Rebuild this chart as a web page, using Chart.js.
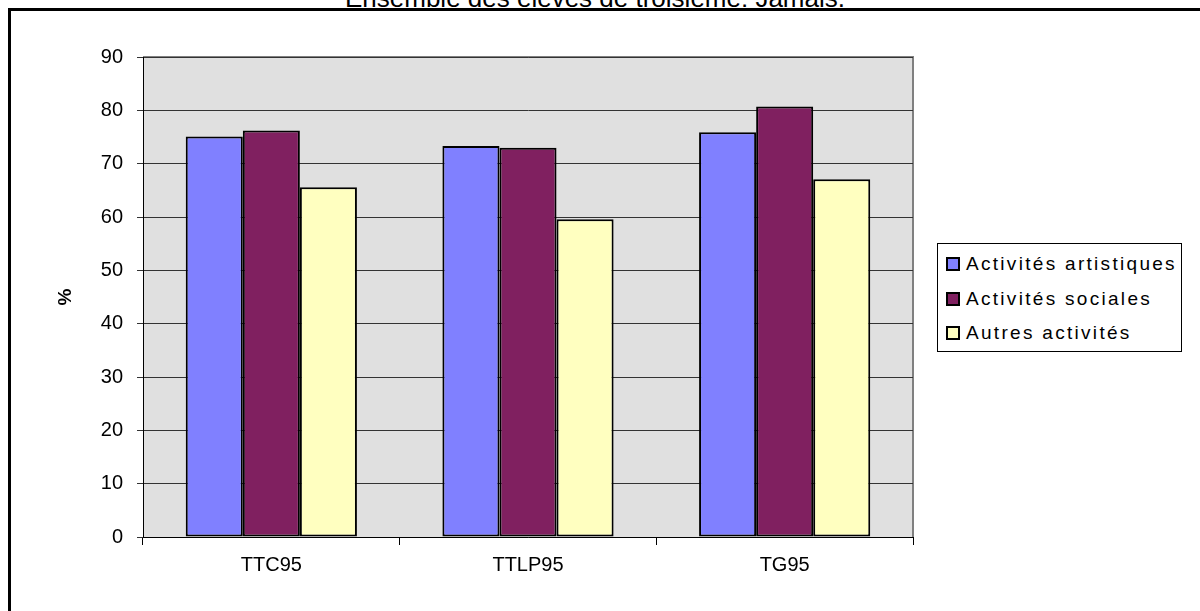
<!DOCTYPE html>
<html>
<head>
<meta charset="utf-8">
<script src="https://cdn.jsdelivr.net/npm/chart.js@4/dist/chart.umd.min.js"></script>
<style>
  html, body { margin: 0; padding: 0; background: #fff; overflow: hidden; }
  body { width: 1200px; height: 611px; position: relative; font-family: "Liberation Sans", Arial, sans-serif; }
  #frame { position: absolute; left: 8px; top: 8px; width: 1300px; height: 700px; border-left: 3px solid #000; border-top: 3px solid #000; }
  #title { position: absolute; left: 0; width: 1190px; top: -15px; text-align: center; font-size: 26px; line-height: 26px; color: #000; }
  #wrap { position: absolute; left: 0; top: 0; width: 1200px; height: 611px; }
  #legend { position: absolute; left: 937px; top: 243px; width: 245px; height: 109px; border: 1px solid #000; background: #fff; box-sizing: border-box; }
  .item { position: absolute; left: 8px; height: 22px; display: flex; align-items: center; font-size: 19px; letter-spacing: 2.3px; color: #000; white-space: nowrap; }
  .sw { width: 10px; height: 10px; border: 2px solid #000; margin-right: 6px; }
</style>
</head>
<body>
<div id="frame"></div>
<div id="title">Ensemble des élèves de troisième: Jamais.</div>
<div id="wrap"><canvas id="chart" width="1200" height="611"></canvas></div>
<div id="legend"></div>
<script>
// ===== DATA =====
const CATEGORIES = ['TTC95', 'TTLP95', 'TG95'];
const SERIES_NAMES = ['Activités artistiques', 'Activités sociales', 'Autres activités'];
const ARTISTIQUES = [75.1, 73.3, 75.9];
const SOCIALES = [76.2, 73.0, 80.7];
const AUTRES = [65.6, 59.6, 67.1];
const Y_TICKS = [0, 10, 20, 30, 40, 50, 60, 70, 80, 90];
const COLORS = ['#8080ff', '#802060', '#ffffc0'];

// plot background + grey frame on top/right, like the old spreadsheet look
const plotArea = {
  id: 'plotArea',
  beforeDraw(chart) {
    const { ctx, chartArea: a } = chart;
    ctx.save();
    ctx.fillStyle = '#e0e0e0';
    ctx.fillRect(a.left, a.top, a.right - a.left, a.bottom - a.top);
    ctx.strokeStyle = '#808080';
    ctx.lineWidth = 2;
    ctx.beginPath();
    ctx.moveTo(a.left, a.top);
    ctx.lineTo(a.right, a.top);
    ctx.lineTo(a.right, a.bottom);
    ctx.stroke();
    ctx.restore();
  }
};

function renderChart() {
  const ctx = document.getElementById('chart').getContext('2d');
  const values = [ARTISTIQUES, SOCIALES, AUTRES];

  new Chart(ctx, {
    type: 'bar',
    data: {
      labels: CATEGORIES,
      datasets: SERIES_NAMES.map((name, i) => ({
        label: name,
        data: values[i],
        backgroundColor: COLORS[i],
        borderColor: '#000',
        borderWidth: 2,
        borderSkipped: false,
        categoryPercentage: 0.667,
        barPercentage: 1.0,
      }))
    },
    options: {
      responsive: false,
      animation: false,
      layout: { padding: { top: 57, right: 287, bottom: 0, left: 0 } },
      plugins: {
        legend: { display: false },
        tooltip: { enabled: false },
        title: { display: false }
      },
      scales: {
        x: {
          afterFit: s => { s.height = 74; },
          grid: { offset: true, drawOnChartArea: false, tickLength: 8, color: '#000', lineWidth: 1 },
          border: { color: '#000', width: 1 },
          ticks: { font: { family: 'Liberation Sans', size: 20 }, color: '#000', padding: 8 }
        },
        y: {
          min: 0,
          max: 90,
          afterFit: s => { s.width = 143; },
          afterBuildTicks: s => { s.ticks = Y_TICKS.map(v => ({ value: v })); },
          grid: { color: '#333', lineWidth: 1, tickLength: 6, drawTicks: true },
          border: { color: '#000', width: 1 },
          ticks: { font: { family: 'Liberation Sans', size: 20 }, color: '#000', padding: 14 },
          title: {
            display: true,
            text: '%',
            font: { family: 'Liberation Sans', size: 19, weight: 'bold' },
            color: '#000',
            padding: { top: 54, bottom: 0 }
          }
        }
      }
    },
    plugins: [plotArea]
  });
}

function renderLegend() {
  const box = document.getElementById('legend');
  const rowsY = [9, 44, 78];
  box.innerHTML = SERIES_NAMES.map((name, i) => `
    <div class="item" style="top:${rowsY[i]}px">
      <span class="sw" style="background:${COLORS[i]}"></span>${name}
    </div>
  `).join('');
}

renderChart();
renderLegend();
</script>
</body>
</html>
